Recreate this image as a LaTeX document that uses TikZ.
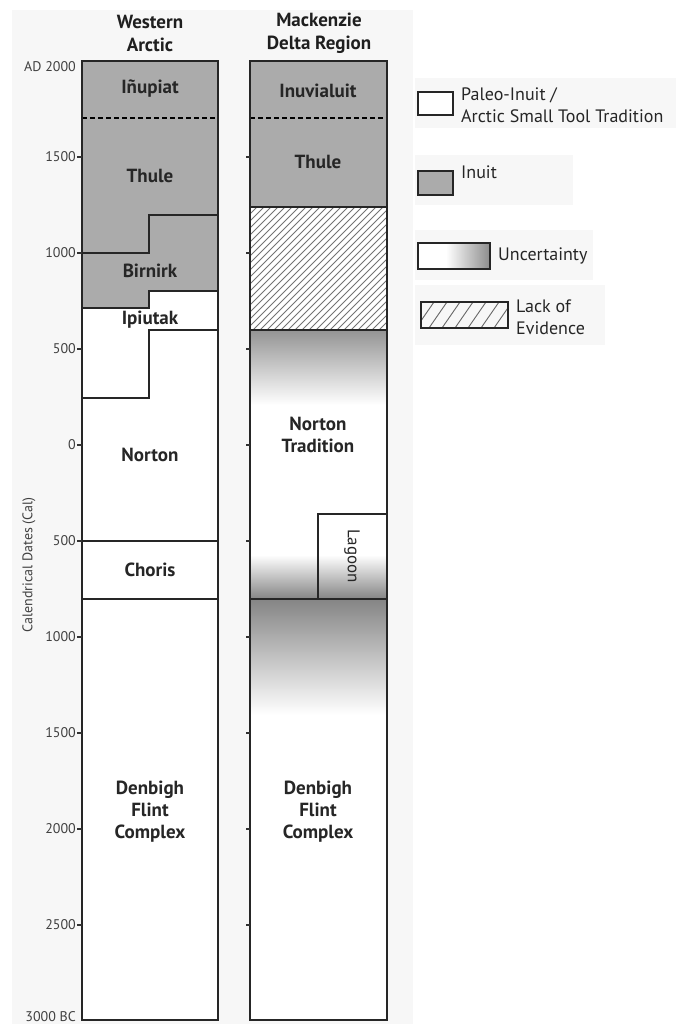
\documentclass[tikz,border=0pt]{standalone}
\usepackage{fontspec}
\setmainfont{PT Sans}
\begin{document}
\begin{tikzpicture}[x=1pt,y=-1pt,
  ln/.style={line width=1.8pt, draw=black!85},
  dashln/.style={line width=2pt, draw=black, dash pattern=on 5pt off 3pt},
  inuit/.style={fill=black!33},
  hatchln/.style={line width=0.9pt, draw=black!55},
  lbl/.style={font=\bfseries\fontsize{19}{22}\selectfont, text=black!85, align=center, inner sep=0pt},
  ttl/.style={font=\bfseries\fontsize{19}{23}\selectfont, text=black!88, align=center, inner sep=0pt},
  ticklbl/.style={font=\fontsize{14}{15}\selectfont, text=black!75, anchor=east, inner sep=0pt},
  leg/.style={font=\fontsize{18}{22}\selectfont, text=black!85, anchor=west, align=left, inner sep=0pt},
  tick/.style={line width=1.2pt, draw=black!80},
  panel/.style={fill=black!3}
]
\useasboundingbox (0,0) rectangle (676,1024);
\fill[white] (0,0) rectangle (676,1024);
\fill[panel] (12,10) rectangle (413,1024);
% legend panels
\fill[panel] (415,78) rectangle (676,128);
\fill[panel] (415,155) rectangle (573,205);
\fill[panel] (415,230) rectangle (593,280);
\fill[panel] (415,285) rectangle (605,345);

% ---------- Column 1 : Western Arctic ----------
\fill[white] (82,61) rectangle (218,1020);
\fill[inuit] (82,61) -- (218,61) -- (218,291) -- (149,291) -- (149,308) -- (82,308) -- cycle;
\draw[dashln] (82,118) -- (218,118);
\draw[ln] (82,253) -- (149,253) -- (149,215) -- (218,215);
\draw[ln] (82,308) -- (149,308) -- (149,291) -- (218,291);
\draw[ln] (82,398) -- (149,398) -- (149,330) -- (218,330);
\draw[ln] (82,541) -- (218,541);
\draw[ln] (82,599) -- (218,599);
\draw[ln] (82,61) rectangle (218,1020);

% ---------- Column 2 : Mackenzie Delta ----------
\fill[white] (250,61) rectangle (387,1020);
\fill[inuit] (250,61) rectangle (387,207);
\begin{scope}
  \clip (250,207) rectangle (387,330);
  \foreach \i in {0,7,...,280} {
    \draw[hatchln] (250+\i-130,337) -- (250+\i,207);
  }
\end{scope}
\shade[top color=black!42, bottom color=white] (250,330) rectangle (387,405);
\shade[top color=white, bottom color=black!48] (250,555) rectangle (387,599);
\shade[top color=black!48, bottom color=white] (250,599) rectangle (387,715);
\draw[dashln] (250,118) -- (387,118);
\draw[ln] (250,207) -- (387,207);
\draw[ln] (250,330) -- (387,330);
\draw[ln] (250,599) -- (387,599);
\draw[ln] (318,599) -- (318,514) -- (387,514);
\draw[ln] (250,61) rectangle (387,1020);

% ---------- ticks ----------
\foreach \y/\t in {157/1500,253/1000,349/500,445/0,541/500,637/1000,733/1500,829/2000,925/2500} {
  \draw[tick] (77,\y) -- (82,\y);
  \draw[tick] (246,\y) -- (250,\y);
  \node[ticklbl] at (76,\y) {\t};
}
\node[ticklbl] (ad) at (76,66.5) {AD 2000};
\node[ticklbl] (bc) at (76,1017) {3000 BC};
\node[font=\fontsize{14}{15}\selectfont, text=black!75, rotate=90, inner sep=0pt] (axis) at (29,565) {Calendrical Dates (Cal)};

% ---------- titles ----------
\node[ttl] (t1) at (150,33.5) {Western\\Arctic};
\node[ttl] (t2) at (319,33.5) {Mackenzie\\Delta Region};

% ---------- column labels ----------
\node[lbl] (inupiat) at (150,89) {Iñupiat};
\node[lbl] (thule1) at (150,176) {Thule};
\node[lbl] (birnirk) at (150,271) {Birnirk};
\node[lbl] (ipiutak) at (150,320) {Ipiutak};
\node[lbl] (norton) at (150,455) {Norton};
\node[lbl] (choris) at (150,570) {Choris};
\node[lbl] (denbigh1) at (150,812) {Denbigh\\Flint\\Complex};
\node[lbl] (inuvialuit) at (318,91) {Inuvialuit};
\node[lbl] (thule2) at (318,162) {Thule};
\node[lbl] (nortont) at (318,435) {Norton\\Tradition};
\node[lbl] (denbigh2) at (318,812) {Denbigh\\Flint\\Complex};
\node[lbl, font=\fontsize{17}{18}\selectfont, rotate=-90] (lagoon) at (352,556) {Lagoon};

% ---------- legend ----------
\draw[ln, fill=white] (418,92) rectangle (453,115);
\node[leg] (l1) at (461,105) {Paleo-Inuit /\\Arctic Small Tool Tradition};
\draw[ln, fill=black!33] (418,171) rectangle (453,195);
\node[leg] (l2) at (461,172) {Inuit};
\shade[left color=white, right color=white] (418,243) rectangle (446,269);
\shade[left color=white, right color=black!45] (446,243) rectangle (490,269);
\draw[ln] (418,243) rectangle (490,269);
\node[leg] (l3) at (498,256) {Uncertainty};
\begin{scope}
  \clip (421,302) rectangle (508,328);
  \foreach \i in {0,13,...,120} {
    \draw[line width=0.9pt, draw=black!60] (421+\i-18,328) -- (421+\i,302);
  }
\end{scope}
\draw[ln] (421,302) rectangle (508,328);
\node[leg] (l4) at (516,317) {Lack of\\Evidence};
\end{tikzpicture}
\end{document}
